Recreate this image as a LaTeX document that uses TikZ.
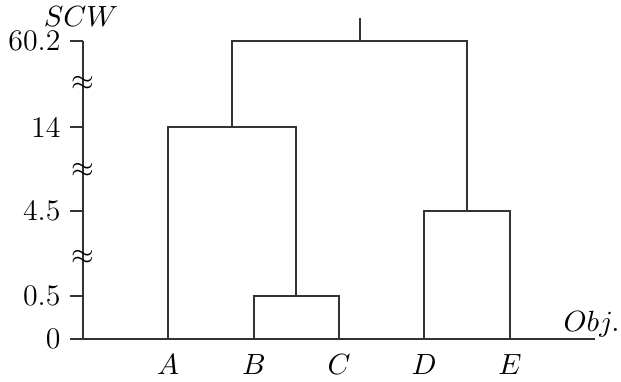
\documentclass[tikz,border=0pt]{standalone}
\begin{document}
\begin{tikzpicture}[x=0.375pt,y=-0.375pt,
  ln/.style={draw=black!80,line width=0.5pt},
  lbl/.style={inner sep=0pt,font=\fontsize{11.2}{13}\selectfont}]
\useasboundingbox (0,0) rectangle (621,381);
% axes
\coordinate (ytop) at (83,41);
\coordinate (origin) at (83,339);
\coordinate (xend) at (595,339);
\coordinate (xstart) at (70,339);
\draw[ln] (ytop) -- (origin);
\draw[ln] (xstart) -- (xend);
% ticks
\foreach \yy/\t/\n in {41/60.2/ta,127/14/tb,211/4.5/tc,296/0.5/td,339/0/te}{
  \coordinate (\n) at (70,\yy);
  \draw[ln] (\n) -- (83,\yy);
  \node[lbl,anchor=east] (\n l) at (61,\yy) {\t};
}
% breaks
\foreach \yy/\n in {83/ba,170/bb,257/bc}{
  \node[lbl] (\n) at (83,\yy) {$\approx$};
}
\node[lbl] (scw) at (81,17) {$SCW$};
\node[lbl,anchor=base east] (obj) at (620,331) {$Obj.$};
% leaves
\foreach \xx/\n in {168/A,254/B,339/C,424/D,510/E}{
  \coordinate (\n) at (\xx,339);
  \node[lbl] (\n l) at (\xx,365) {$\n$};
}
% joins
\coordinate (bc) at (296,296);
\coordinate (abc) at (232,127);
\coordinate (de) at (467,211);
\coordinate (top) at (360,41);
\coordinate (stub) at (360,18);
\draw[ln] (B) |- (bc) -| (C);
\draw[ln] (A) |- (abc) -| (bc);
\draw[ln] (D) |- (de) -| (E);
\draw[ln] (abc) |- (top) -| (de);
\draw[ln] (top) -- (stub);
\end{tikzpicture}
\end{document}
